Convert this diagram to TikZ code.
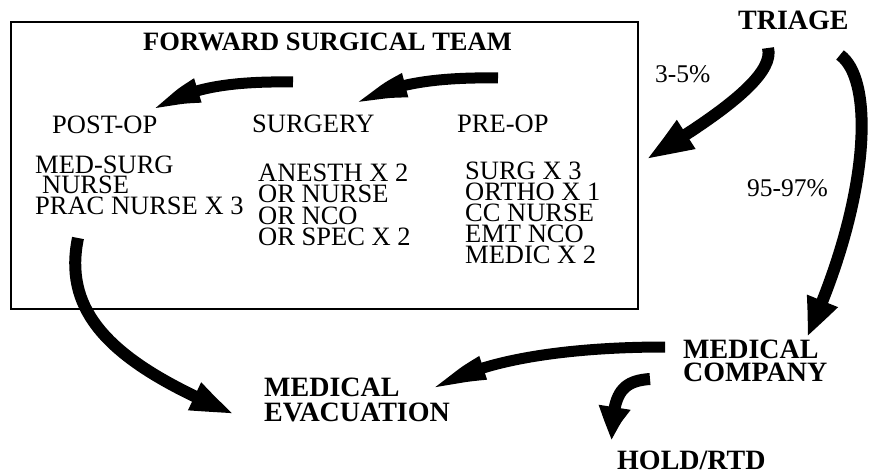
\documentclass[tikz,border=0pt]{standalone}
\usepackage{fontspec}
\setmainfont{Liberation Serif}
\usetikzlibrary{arrows.meta,bending}
\begin{document}
\begin{tikzpicture}[x=1pt,y=-1pt,
  lbl/.style={anchor=base west, inner sep=0pt, text height=17pt, text depth=2.5pt, font=\fontsize{26.5}{21}\selectfont},
  pct/.style={anchor=base west, inner sep=0pt, text height=17pt, text depth=2pt, font=\fontsize{25.5}{25}\selectfont},
  hdr/.style={anchor=base west, inner sep=0pt, text height=18pt, text depth=2pt, font=\bfseries\fontsize{28}{28}\selectfont},
  ttl/.style={anchor=base west, inner sep=0pt, text height=18pt, text depth=2pt, font=\bfseries\fontsize{26.5}{26}\selectfont},
  teambox/.style={draw, line width=1.3pt},
  fatA/.style={line width=11pt, -{Triangle[length=48pt,width=22pt,bend]}},
  fatB/.style={line width=12pt, -{Triangle[length=50pt,width=30pt,bend]}},
]
\useasboundingbox (0,0) rectangle (870,476);
\fill[white] (0,0) rectangle (870,476);

% box
\draw[teambox] (11,22) rectangle (638,309);
\node[ttl] (fst) at (143,51) {FORWARD SURGICAL TEAM};

% column headers
\node[lbl] (postop) at (52,134) {POST-OP};
\node[lbl] (surgery) at (252,133) {SURGERY};
\node[lbl] (preop) at (457,133) {PRE-OP};

% column 1
\node[lbl] (c1a) at (35,173) {MED-SURG};
\node[lbl] (c1b) at (42,193.5) {NURSE};
\node[lbl] (c1c) at (35,214) {PRAC NURSE X 3};
% column 2
\node[lbl] (c2a) at (258,181) {ANESTH X 2};
\node[lbl] (c2b) at (258,202.5) {OR NURSE};
\node[lbl] (c2c) at (258,224) {OR NCO};
\node[lbl] (c2d) at (258,245.5) {OR SPEC X 2};
% column 3
\node[lbl] (c3a) at (465,179) {SURG X 3};
\node[lbl] (c3b) at (465,200) {ORTHO X 1};
\node[lbl] (c3c) at (465,221) {CC NURSE};
\node[lbl] (c3d) at (465,242) {EMT NCO};
\node[lbl] (c3e) at (465,263) {MEDIC X 2};

% outside labels
\node[hdr] (triage) at (738,30) {TRIAGE};
\node[pct] (p1) at (655,83) {3-5\%};
\node[pct] (p2) at (747,196) {95-97\%};
\node[hdr] (medco1) at (683,358) {MEDICAL};
\node[hdr] (medco2) at (683,381) {COMPANY};
\node[hdr] (evac1) at (264,396) {MEDICAL};
\node[hdr] (evac2) at (264,421) {EVACUATION};
\node[hdr] (hold) at (617,469) {HOLD/RTD};

% arrow end points
\coordinate (a1s) at (293,82);  \coordinate (a1e) at (153,114);
\coordinate (a2s) at (498,78);  \coordinate (a2e) at (357,108);
\coordinate (a3s) at (768,48);  \coordinate (a3e) at (645,160);
\coordinate (a4s) at (840,55);  \coordinate (a4e) at (807,337);
\coordinate (a5s) at (665,347); \coordinate (a5e) at (433,392);
\coordinate (a6s) at (78,238);  \coordinate (a6e) at (237,415);
\coordinate (a7s) at (650,379); \coordinate (a7e) at (612,443);

\draw[fatA] (a1s) .. controls (230,81) and (180,88) .. (a1e);
\draw[fatA] (a2s) .. controls (440,77) and (382,83) .. (a2e);
\draw[fatB] (a3s) .. controls (775,75) and (720,115) .. (a3e);
\draw[line width=12pt, -{Triangle[length=40pt,width=30pt,bend]}] (a4s) .. controls (875,80) and (870,200) .. (a4e);
\draw[fatA] (a5s) .. controls (560,347) and (470,362) .. (a5e);
\draw[line width=12pt, -{Triangle[length=48pt,width=26pt,bend]}] (a6s) .. controls (62,315) and (115,365) .. (a6e);
\draw[line width=12pt, -{Triangle[length=40pt,width=27pt,bend]}] (a7s) .. controls (620,381) and (612,395) .. (a7e);
\end{tikzpicture}
\end{document}
